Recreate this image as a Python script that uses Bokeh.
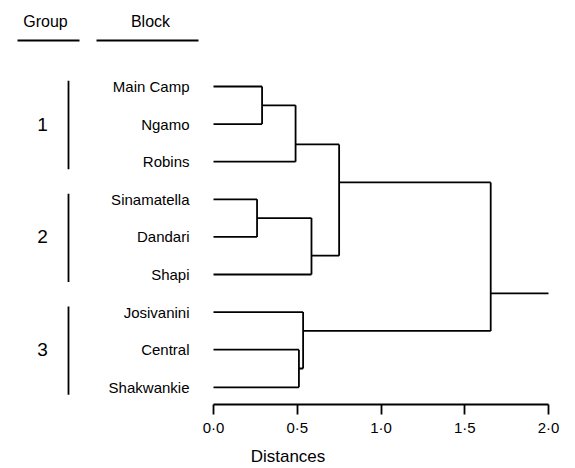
import json
from bokeh.plotting import figure
from bokeh.models import Range1d, FixedTicker, CustomJSTickFormatter
from bokeh.core.properties import value
from bokeh.embed import file_html
from bokeh.resources import INLINE

# ---------------- data ----------------
leaves = ["Main Camp", "Ngamo", "Robins", "Sinamatella", "Dandari",
          "Shapi", "Josivanini", "Central", "Shakwankie"]
# merges: (child_a, child_b, distance, vertical position in leaf units)
merge_a = [0, 9, 3, 11, 10, 7, 6, 13]
merge_b = [1, 2, 4, 5, 12, 8, 14, 15]
merge_dist = [0.29, 0.49, 0.26, 0.585, 0.75, 0.51, 0.535, 1.655]
merge_pos = [0.5, 1.54, 3.5, 4.5, 2.55, 7.5, 6.5, 5.5]
root_tail = 2.0

groups = ["1", "2", "3"]
group_first = [0, 3, 6]
group_last = [2, 5, 8]

headers = ["Group", "Block"]

ticks = [0.0, 0.5, 1.0, 1.5, 2.0]
tick_labels = ["0·0", "0·5", "1·0", "1·5", "2·0"]
axis_title = "Distances"

# ---------------- layout constants ----------------
W, H = 575, 468
X0PX, XSC = 213.0, 167.5           # px of distance 0, px per unit
Y0PX, YSC = 86.0, 37.6             # px of first leaf, px per leaf
FRAME_BOTTOM = 404
FONT = "Liberation Sans"

def xd(px):
    return (px - X0PX) / XSC

def yd(px):
    return (px - Y0PX) / YSC

p = figure(width=W, height=H, output_backend="svg", toolbar_location=None,
           x_range=Range1d(xd(0), xd(W)),
           y_range=Range1d(yd(FRAME_BOTTOM), yd(0)),
           y_axis_location=None, min_border_left=0, min_border_right=0,
           min_border_top=0, min_border_bottom=H - FRAME_BOTTOM)
p.outline_line_color = None
p.xgrid.visible = False
p.ygrid.visible = False
p.background_fill_color = "white"
p.border_fill_color = "white"

# ---------------- dendrogram ----------------
nx = [0.0] * len(leaves)
ny = [float(i) for i in range(len(leaves))]
hx0, hx1, hy = [], [], []
vx, vy0, vy1 = [], [], []
for a, b, d, pos in zip(merge_a, merge_b, merge_dist, merge_pos):
    for c in (a, b):
        hx0.append(nx[c]); hx1.append(d); hy.append(ny[c])
    vx.append(d); vy0.append(ny[a]); vy1.append(ny[b])
    nx.append(d); ny.append(pos)
# root tail
hx0.append(nx[-1]); hx1.append(root_tail); hy.append(ny[-1])

p.segment(x0=hx0, y0=hy, x1=hx1, y1=hy, line_color="black", line_width=1.8)
p.segment(x0=vx, y0=vy0, x1=vx, y1=vy1, line_color="black", line_width=1.8)

# leaf labels
p.text(x=[0.0] * len(leaves), y=list(range(len(leaves))), text=leaves,
       x_offset=-24, text_align="right", text_baseline="middle",
       text_font=value(FONT), text_font_size="15px", text_color="black")

# groups
gx = xd(68)
p.segment(x0=[gx] * 3, y0=[f - 0.15 for f in group_first],
          x1=[gx] * 3, y1=[l + 0.2 for l in group_last],
          line_color="black", line_width=1.8)
p.text(x=[xd(42)] * 3, y=[(f + l) / 2 for f, l in zip(group_first, group_last)],
       text=groups, text_align="center", text_baseline="middle",
       text_font=value(FONT), text_font_size="19px", text_color="black")

# headers
p.text(x=[xd(45), xd(150)], y=[yd(21)] * 2, text=headers,
       text_align="center", text_baseline="middle",
       text_font=value(FONT), text_font_size="16px", text_color="black")
p.segment(x0=[xd(17), xd(96)], y0=[yd(40)] * 2, x1=[xd(79), xd(198)],
          y1=[yd(40)] * 2, line_color="black", line_width=1.8)

# ---------------- axis ----------------
ax = p.xaxis[0]
ax.bounds = (ticks[0], ticks[-1])
ax.ticker = FixedTicker(ticks=ticks, minor_ticks=[])
ax.formatter = CustomJSTickFormatter(
    code="const labels = %s; return labels[index];" % json.dumps(tick_labels))
ax.axis_line_width = 1.8
ax.major_tick_line_width = 1.8
ax.major_tick_out = 10
ax.major_tick_in = 0
ax.minor_tick_line_color = None
ax.major_label_standoff = 4
ax.major_label_text_font = FONT
ax.major_label_text_font_size = "15px"
ax.major_label_text_color = "black"
ax.axis_label = axis_title
ax.axis_label_text_font = FONT
ax.axis_label_text_font_size = "17px"
ax.axis_label_text_font_style = "normal"
ax.axis_label_text_color = "black"
ax.axis_label_standoff = 8

open("out.html", "w").write(file_html(p, INLINE))
